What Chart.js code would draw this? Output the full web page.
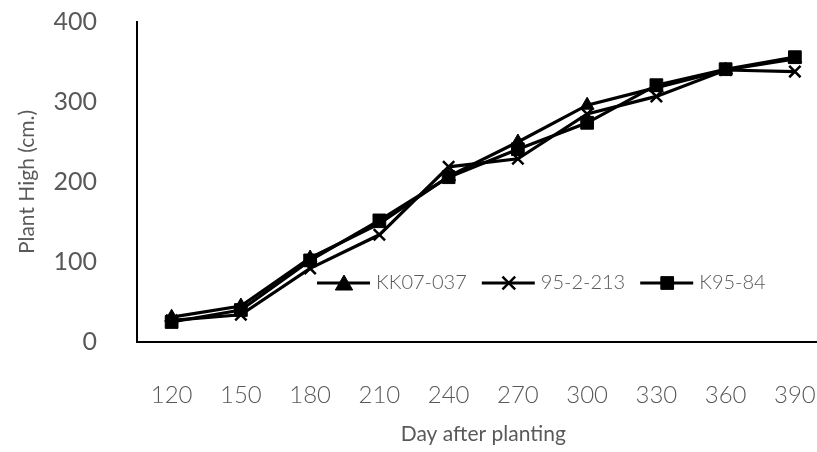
<!DOCTYPE html>
<html>
<head>
<meta charset="utf-8">
<script src="https://cdn.jsdelivr.net/npm/chart.js@4"></script>
<style>
  html, body { margin: 0; padding: 0; background: #fff; overflow: hidden; }
  canvas { display: block; }
</style>
</head>
<body>
<canvas id="myChart" width="840" height="452"></canvas>
<script>
// days after planting
var days = ['120', '150', '180', '210', '240', '270', '300', '330', '360', '390'];

// plant height (cm.)
var kk07037 = [31, 45, 105, 148, 207, 250, 296, 318, 340, 354];
var v952213 = [27, 34, 92, 134, 219, 229, 285, 307, 340, 338];
var k9584 = [25, 40, 102, 152, 206, 241, 274, 321, 341, 356];

var yTicks = [0, 100, 200, 300, 400];

var gray = '#595959';

// legend drawn inside the plot, line + marker + label
var insideLegend = {
    id: 'insideLegend',
    afterDraw: function (chart) {
        var ctx = chart.ctx;
        var x = 317, y = 283;
        ctx.save();
        ctx.font = '300 20px Lato';
        ctx.textBaseline = 'middle';
        ctx.textAlign = 'left';
        chart.data.datasets.forEach(function (ds) {
            ctx.strokeStyle = '#000';
            ctx.lineWidth = 3.2;
            ctx.beginPath();
            ctx.moveTo(x, y);
            ctx.lineTo(x + 53, y);
            ctx.stroke();
            ctx.fillStyle = '#000';
            ctx.strokeStyle = '#000';
            ctx.lineWidth = ds.pointStyle === 'crossRot' ? 2.5 : 1;
            Chart.helpers.drawPoint(ctx, {
                pointStyle: ds.pointStyle,
                radius: ds.legendRadius,
                rotation: 0,
                borderWidth: ctx.lineWidth
            }, x + 27, y + (ds.pointStyle === 'triangle' ? 2 : 0));
            ctx.fillStyle = gray;
            ctx.fillText(ds.label, x + 59, y);
            x += 59 + ctx.measureText(ds.label).width + 15;
        });
        ctx.restore();
    }
};

var ctx = document.getElementById('myChart');
var chart = new Chart(ctx, {
    type: 'line',
    data: {
        labels: days,
        datasets: [{
            label: 'KK07-037',
            data: kk07037,
            borderColor: '#000',
            backgroundColor: '#000',
            borderWidth: 3.2,
            pointStyle: 'triangle',
            pointRadius: 8,
            pointBorderWidth: 1,
            legendRadius: 10
        }, {
            label: '95-2-213',
            data: v952213,
            borderColor: '#000',
            backgroundColor: '#000',
            borderWidth: 3.2,
            pointStyle: 'crossRot',
            pointRadius: 8,
            pointBorderWidth: 2.5,
            legendRadius: 9
        }, {
            label: 'K95-84',
            data: k9584,
            borderColor: '#000',
            backgroundColor: '#000',
            borderWidth: 3.2,
            pointStyle: 'rect',
            pointRadius: 9,
            pointBorderWidth: 1,
            legendRadius: 9
        }]
    },
    options: {
        responsive: false,
        animation: false,
        layout: { padding: { top: 22, right: 2, left: 0, bottom: 0 } },
        plugins: {
            legend: { display: false },
            tooltip: { enabled: false }
        },
        elements: { line: { tension: 0 } },
        scales: {
            x: {
                offset: true,
                grid: { display: false, drawTicks: false },
                border: { color: '#000', width: 2 },
                ticks: {
                    color: gray,
                    padding: 39,
                    maxRotation: 0,
                    font: { family: 'Lato', size: 24, weight: '300' }
                },
                title: {
                    display: true,
                    text: 'Day after planting',
                    color: gray,
                    padding: { top: 6, bottom: 5 },
                    font: { family: 'Lato', size: 21 }
                },
                afterFit: function (scale) {
                    scale.height = 110;
                    scale.paddingTop = 0;
                    scale.paddingBottom = 0;
                    scale.paddingLeft = 0;
                    scale.paddingRight = 0;
                }
            },
            y: {
                min: yTicks[0],
                max: yTicks[yTicks.length - 1],
                grid: { display: false, drawTicks: false },
                border: { color: '#000', width: 2 },
                afterBuildTicks: function (scale) {
                    scale.ticks = yTicks.map(function (v) { return { value: v }; });
                },
                ticks: {
                    color: gray,
                    padding: 40,
                    font: { family: 'Lato', size: 25 }
                },
                title: {
                    display: true,
                    text: 'Plant High (cm.)',
                    color: gray,
                    padding: { top: 15, bottom: 15 },
                    font: { family: 'Lato', size: 21 }
                },
                afterFit: function (scale) {
                    scale.width = 137;
                    scale.paddingTop = 0;
                    scale.paddingBottom = 0;
                }
            }
        }
    },
    plugins: [insideLegend]
});
</script>
</body>
</html>
